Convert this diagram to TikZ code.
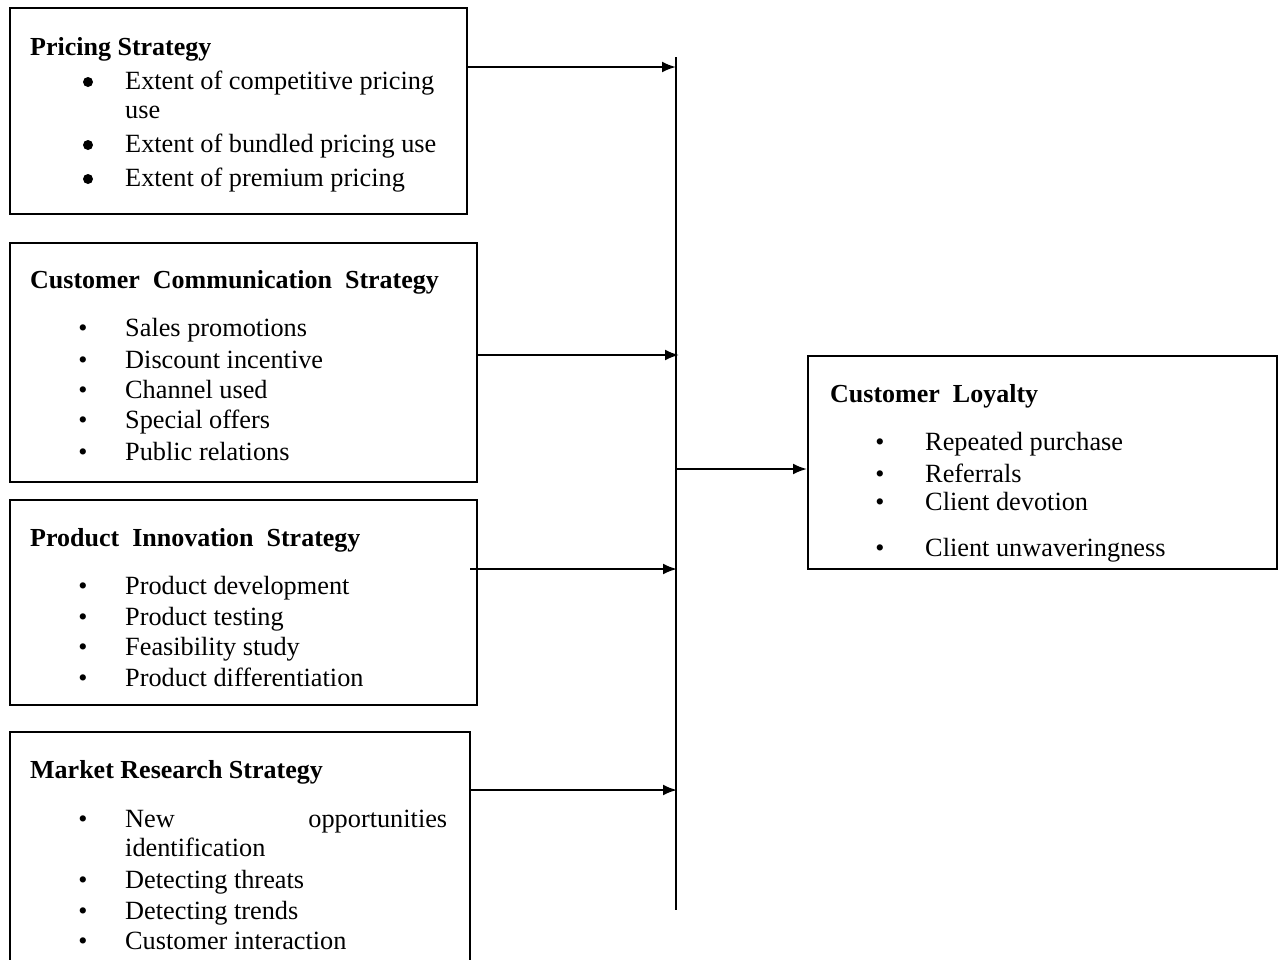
\documentclass[tikz,border=0pt]{standalone}
\usepackage{fontspec}
\setmainfont{Liberation Serif}
\usetikzlibrary{arrows.meta}

\tikzset{
	box/.style={draw, line width=2pt, anchor=north west, inner sep=0pt},
	head/.style={anchor=base west, inner sep=0pt, font=\fontsize{26}{31}\selectfont\bfseries},
	item/.style={anchor=base west, inner sep=0pt, font=\fontsize{26.3}{31}\selectfont},
	dot/.style={anchor=base, inner sep=0pt, font=\fontsize{26}{31}\selectfont},
	bigdot/.style={circle, fill, inner sep=0pt, minimum size=10pt},
	arr/.style={line width=2.2pt, -{Latex[length=14pt,width=11pt]}},
}

\begin{document}
\begin{tikzpicture}[x=1pt, y=-1pt]
		\useasboundingbox (0,0) rectangle (1281,959);
		\clip (0,0) rectangle (1281,959);
		
		% boxes
		\node[box, minimum width=457pt, minimum height=206pt] (pricing) at (9,7) {};
		\node[box, minimum width=467pt, minimum height=239pt] (commun) at (9,242) {};
		\node[box, minimum width=467pt, minimum height=205pt] (innov) at (9,499) {};
		\node[box, minimum width=460pt, minimum height=240pt] (research) at (9,731) {};
		\node[box, minimum width=469pt, minimum height=213pt] (loyalty) at (807,355) {};
		
		% pricing
		\node[head] (tpricing) at (30,55) {Pricing Strategy};
		\foreach \t/\y in {Extent of competitive pricing/89, Extent of bundled pricing use/152, Extent of premium pricing/186}
		{
			\node[bigdot] (bp\y) at (88,\y-7) {};
			\node[item] (ip\y) at (125,\y) {\t};
		}
		\node[item] (ipuse) at (125,118) {use};
		
		% communication
		\node[head] (tcommun) at (30,288) {Customer\ \ Communication\ \ Strategy};
		\foreach \t/\y in {Sales promotions/336, Discount incentive/368, Channel used/398, Special offers/428, Public relations/460}
		{
			\node[dot] (bc\y) at (83,\y) {•};
			\node[item] (ic\y) at (125,\y) {\t};
		}
		
		% innovation
		\node[head] (tinnov) at (30,546) {Product\ \ Innovation\ \ Strategy};
		\foreach \t/\y in {Product development/594, Product testing/625, Feasibility study/655, Product differentiation/686}
		{
			\node[dot] (bi\y) at (83,\y) {•};
			\node[item] (ii\y) at (125,\y) {\t};
		}
		
		% research
		\node[head] (tresearch) at (30,778) {Market Research Strategy};
		\node[dot] (br1) at (83,827) {•};
		\node[item] (ir1) at (125,827) {\makebox[322pt][l]{New\hfill opportunities}};
		\node[item] (ir2) at (125,856) {identification};
		\foreach \t/\y in {Detecting threats/888, Detecting trends/919, Customer interaction/949}
		{
			\node[dot] (br\y) at (83,\y) {•};
			\node[item] (ir\y) at (125,\y) {\t};
		}
		
		% loyalty
		\node[head] (tloyalty) at (830,402) {Customer\ \ Loyalty};
		\foreach \t/\y in {Repeated purchase/450, Referrals/482, Client devotion/510, Client unwaveringness/556}
		{
			\node[dot] (bl\y) at (880,\y) {•};
			\node[item] (il\y) at (925,\y) {\t};
		}
		
		% trunk and arrows
		\coordinate (ttop) at (676,57);
		\coordinate (tbot) at (676,910);
		\coordinate (a1) at (676,67);
		\coordinate (a2) at (679,355);
		\coordinate (a3) at (677,569);
		\coordinate (a4) at (677,790);
		\coordinate (out) at (676,469);
		\draw[line width=2.2pt] (ttop) -- (tbot);
		\draw[arr] (pricing.east |- a1) -- (a1);
		\draw[arr] (commun.east |- a2) -- (a2);
		\draw[arr] (470,569) -- (a3);
		\draw[arr] (research.east |- a4) -- (a4);
		\draw[arr] (out) -- (loyalty.west |- out);
	\end{tikzpicture}
\end{document}
